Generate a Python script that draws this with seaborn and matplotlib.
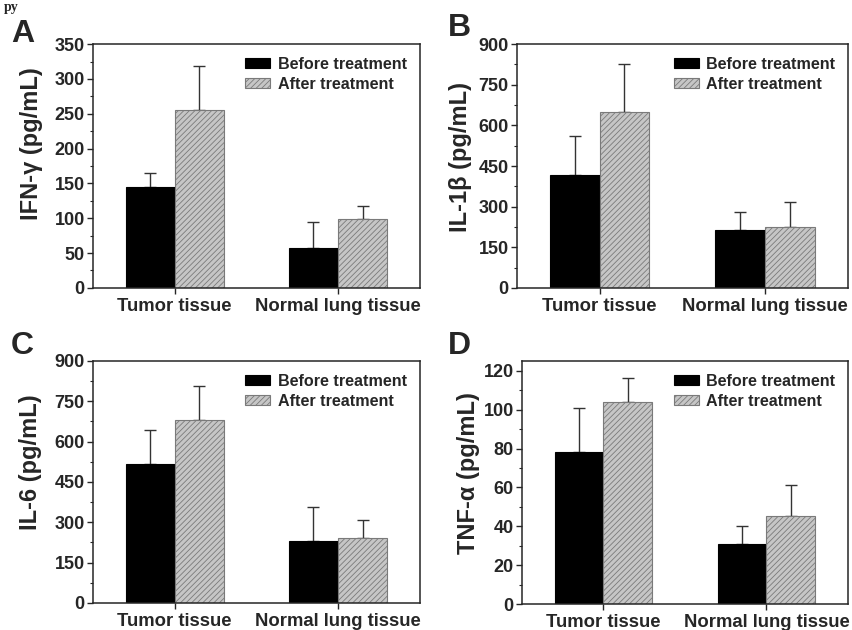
import matplotlib
matplotlib.use("Agg")
import matplotlib.pyplot as plt
import matplotlib.ticker as ticker
import seaborn as sns
import pandas as pd

# values (mean and upper error)
tissues = ["Tumor tissue", "Normal lung tissue"]
groups = ["Before treatment", "After treatment"]

ifn_before = [145, 57]
ifn_before_err = [20, 38]
ifn_after = [256, 99]
ifn_after_err = [62, 19]

il1b_before = [415, 213]
il1b_before_err = [145, 68]
il1b_after = [650, 225]
il1b_after_err = [177, 92]

il6_before = [517, 232]
il6_before_err = [128, 123]
il6_after = [680, 241]
il6_after_err = [126, 69]

tnf_before = [78, 31]
tnf_before_err = [23, 9]
tnf_after = [104, 45.5]
tnf_after_err = [12, 15.5]

panels = [
    ("A", "IFN-γ (pg/mL)", ifn_before, ifn_before_err, ifn_after, ifn_after_err, 350, 50),
    ("B", "IL-1β (pg/mL)", il1b_before, il1b_before_err, il1b_after, il1b_after_err, 900, 150),
    ("C", "IL-6 (pg/mL)", il6_before, il6_before_err, il6_after, il6_after_err, 900, 150),
    ("D", "TNF-α (pg/mL)", tnf_before, tnf_before_err, tnf_after, tnf_after_err, 125, 20),
]

# axes boxes in figure fractions
boxes = [
    [0.109, 0.543, 0.383, 0.387],
    [0.606, 0.543, 0.388, 0.387],
    [0.109, 0.043, 0.383, 0.384],
    [0.612, 0.041, 0.382, 0.386],
]
letter_pos = [(0.013, 0.946), (0.525, 0.956), (0.013, 0.451), (0.525, 0.451)]
ylabel_pos = [(-0.153, 0.59), (-0.136, 0.537), (-0.156, 0.583), (-0.129, 0.54)]

sns.set_style("ticks")
plt.rcParams["font.family"] = ["Liberation Sans", "DejaVu Sans"]
plt.rcParams["font.weight"] = "bold"
plt.rcParams["hatch.linewidth"] = 0.6

fig = plt.figure(figsize=(8.53, 6.30), dpi=100)
fig.text(0.004, 0.999, "py", family="Liberation Serif", fontsize=10, va="top", ha="left")

for (letter, ylab, bef, bef_err, aft, aft_err, ymax, step), box, lp, yl in zip(
        panels, boxes, letter_pos, ylabel_pos):
    ax = fig.add_axes(box)
    df = pd.DataFrame({
        "tissue": tissues * 2,
        "group": [groups[0]] * 2 + [groups[1]] * 2,
        "value": bef + aft,
    })
    sns.barplot(data=df, x="tissue", y="value", hue="group", hue_order=groups,
                palette=["black", "#c6c6c6"], width=0.6, errorbar=None,
                legend=False, saturation=1, ax=ax)

    before_bars, after_bars = ax.containers[0], ax.containers[1]
    for p in before_bars:
        p.set_edgecolor("black")
        p.set_linewidth(0.8)
    for p in after_bars:
        p.set_edgecolor("#7a7a7a")
        p.set_hatch("//////")
        p.set_linewidth(0.8)

    for bars, errs in [(before_bars, bef_err), (after_bars, aft_err)]:
        xs = [p.get_x() + p.get_width() / 2 for p in bars]
        ys = [p.get_height() for p in bars]
        ax.errorbar(xs, ys, yerr=[[0] * len(errs), errs], fmt="none",
                    ecolor="#333333", elinewidth=1, capsize=4, capthick=1, zorder=0)

    ax.set_xlim(-0.5, 1.5)
    ax.set_ylim(0, ymax)
    ax.yaxis.set_major_locator(ticker.MultipleLocator(step))
    ax.yaxis.set_minor_locator(ticker.AutoMinorLocator(2))
    ax.tick_params(axis="y", which="major", length=4, width=1, labelsize=13, pad=2)
    ax.tick_params(axis="y", which="minor", length=2, width=0.8)
    ax.tick_params(axis="x", length=4, width=1, labelsize=13.3, pad=3)
    for s in ax.spines.values():
        s.set_linewidth(1.1)
        s.set_visible(True)
    ax.set_xlabel("")
    ax.set_ylabel(ylab, fontsize=17, fontweight="bold")
    ax.yaxis.set_label_coords(yl[0], yl[1])

    ax.legend([before_bars[0], after_bars[0]], groups, loc="upper right",
              frameon=False, handlelength=1.55, handleheight=0.6,
              handletextpad=0.45, labelspacing=0.3, borderaxespad=0.4,
              prop={"weight": "bold", "size": 11.6})

    fig.text(lp[0], lp[1], letter, fontsize=23, fontweight="bold", va="center", ha="left")

fig.savefig("out.png", dpi=100)
